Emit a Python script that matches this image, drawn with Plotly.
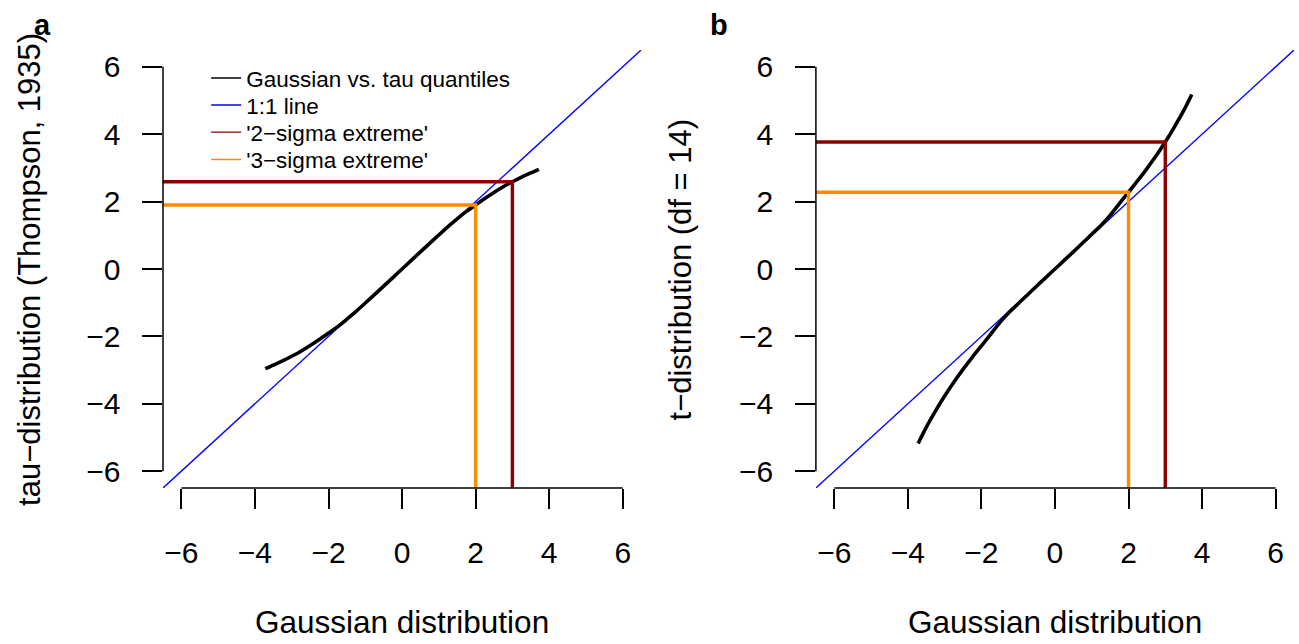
import plotly.graph_objects as go

# Standard normal quantiles shared by both panels
gauss_q = [-3.72, -3.5, -3.25, -3.0, -2.75, -2.5, -2.25, -2.0, -1.75, -1.5,
           -1.25, -1.0, -0.75, -0.5, -0.25, 0.0, 0.25, 0.5, 0.75, 1.0,
           1.25, 1.5, 1.75, 2.0, 2.25, 2.5, 2.75, 3.0, 3.25, 3.5, 3.72]
# Thompson (1935) tau quantiles at the same probabilities
tau_q = [-2.96, -2.85, -2.73, -2.59, -2.44, -2.27, -2.09, -1.90, -1.71, -1.49,
         -1.26, -1.01, -0.76, -0.51, -0.255, 0.0, 0.255, 0.51, 0.76, 1.01,
         1.26, 1.49, 1.71, 1.90, 2.09, 2.27, 2.44, 2.59, 2.73, 2.85, 2.96]
# Student t (df = 14) quantiles at the same probabilities
t14_q = [-5.18, -4.70, -4.22, -3.77, -3.36, -2.98, -2.62, -2.28, -1.94, -1.59,
         -1.29, -1.03, -0.77, -0.51, -0.255, 0.0, 0.255, 0.51, 0.77, 1.03,
         1.29, 1.59, 1.94, 2.28, 2.62, 2.98, 3.36, 3.77, 4.22, 4.70, 5.18]

# Gaussian cut-offs and their counterparts in each distribution
sigma_z = {"2": 3.0, "3": 2.0}
tau_cut = {"2": 2.59, "3": 1.90}
t14_cut = {"2": 3.77, "3": 2.28}

tick_vals = [-6, -4, -2, 0, 2, 4, 6]
tick_text = ["\u22126", "\u22124", "\u22122", "0", "2", "4", "6"]
axis_lim = [-6.5, 6.5]

legend_names = ["Gaussian vs. tau quantiles", "1:1 line",
                "'2\u2212sigma extreme'", "'3\u2212sigma extreme'"]

FONT = "Liberation Sans, Arial, Helvetica, sans-serif"
C_CURVE = "#000000"
C_ONE = "#0000FF"
C_TWO = "#8B0000"
C_THREE = "#FF8C00"
legend_colors = [C_CURVE, C_ONE, C_TWO, C_THREE]

fig = go.Figure()


def add_panel(xa, ya, quant, cut):
    # 1:1 reference line across the whole plotting region
    fig.add_trace(go.Scatter(x=axis_lim, y=axis_lim, mode="lines",
                             line=dict(color=C_ONE, width=1.4),
                             xaxis=xa, yaxis=ya, showlegend=False, hoverinfo="skip"))
    fig.add_trace(go.Scatter(x=gauss_q, y=quant, mode="lines",
                             line=dict(color=C_CURVE, width=3.6, shape="spline",
                                       smoothing=0.8),
                             xaxis=xa, yaxis=ya, showlegend=False))
    for key, col in (("2", C_TWO), ("3", C_THREE)):
        z, q = sigma_z[key], cut[key]
        fig.add_trace(go.Scatter(x=[axis_lim[0], z, z], y=[q, q, axis_lim[0]],
                                 mode="lines", line=dict(color=col, width=3.4),
                                 xaxis=xa, yaxis=ya, showlegend=False))


add_panel("x", "y", tau_q, tau_cut)
add_panel("x2", "y2", t14_q, t14_cut)

W, H = 1299, 644
ML, MR, MT, MB = 162.5, 4.8, 50, 156
PW = W - ML - MR
PH = H - MT - MB
dom_a = [0.0, 478.4 / PW]
dom_b = [(815.8 - ML) / PW, 1.0]


def px_x(px):
    return (px - ML) / PW


def px_y(py):
    return (H - MB - py) / PH


# One single-entry legend per row so the rows sit at a fixed spacing
legend_rows = [78.3, 105.3, 132.5, 159.8]
legend_layout = {}
for i, (name, col, row) in enumerate(zip(legend_names, legend_colors, legend_rows)):
    lid = "legend" if i == 0 else f"legend{i + 1}"
    fig.add_trace(go.Scatter(x=[None], y=[None], mode="lines", name=name,
                             line=dict(color=col, width=1.4), xaxis="x", yaxis="y",
                             legend=lid))
    legend_layout[lid] = dict(x=px_x(205.7), y=px_y(row), xanchor="left", yanchor="middle",
                              bgcolor="rgba(0,0,0,0)", borderwidth=0,
                              font=dict(family=FONT, size=22.5, color="black"))

axis_common = dict(range=axis_lim, tickvals=tick_vals, ticktext=tick_text,
                   ticks="outside", ticklen=19.6, tickwidth=1.5, tickcolor="black",
                   showline=False, showgrid=False, zeroline=False,
                   tickfont=dict(family=FONT, size=30, color="black"))

fig.update_layout(
    width=W, height=H,
    margin=dict(l=ML, r=MR, t=MT, b=MB, pad=0),
    paper_bgcolor="white", plot_bgcolor="white",
    font=dict(family=FONT, color="black"),
    xaxis=dict(domain=dom_a, anchor="y", ticklabelstandoff=18, **axis_common),
    yaxis=dict(domain=[0, 1], anchor="x", ticklabelstandoff=16, **axis_common),
    xaxis2=dict(domain=dom_b, anchor="y2", ticklabelstandoff=18, **axis_common),
    yaxis2=dict(domain=[0, 1], anchor="x2", ticklabelstandoff=16, **axis_common),
    **legend_layout,
)

# R-style axis lines spanning only the tick range
for xref, yref, xp in (("x", "y", 0.0), ("x2", "y2", dom_b[0])):
    fig.add_shape(type="line", xref=xref, yref="paper",
                  x0=min(tick_vals), x1=max(tick_vals), y0=0, y1=0,
                  line=dict(color="black", width=1.5))
    fig.add_shape(type="line", xref="paper", yref=yref,
                  x0=xp, x1=xp, y0=min(tick_vals), y1=max(tick_vals),
                  line=dict(color="black", width=1.5))

annots = [
    dict(text="Gaussian distribution", x=0, xref="x", y=px_y(622), yref="paper",
         xanchor="center", yanchor="middle", font=dict(size=31.5)),
    dict(text="Gaussian distribution", x=0, xref="x2", y=px_y(622), yref="paper",
         xanchor="center", yanchor="middle", font=dict(size=31.5)),
    dict(text="tau\u2212distribution (Thompson, 1935)", x=px_x(28.3), xref="paper",
         y=0, yref="y", textangle=-90, xanchor="center", yanchor="middle",
         font=dict(size=31)),
    dict(text="t\u2212distribution (df = 14)", x=px_x(680.3), xref="paper",
         y=0, yref="y2", textangle=-90, xanchor="center", yanchor="middle",
         font=dict(size=31)),
    dict(text="<b>a</b>", x=px_x(31.7), xref="paper", y=px_y(25), yref="paper",
         xanchor="left", yanchor="middle", font=dict(size=29)),
    dict(text="<b>b</b>", x=px_x(708), xref="paper", y=px_y(25), yref="paper",
         xanchor="left", yanchor="middle", font=dict(size=29)),
]
for a in annots:
    a["showarrow"] = False
    a["font"] = dict(family=FONT, color="black", **a["font"])
    fig.add_annotation(**a)

fig.write_html("out.html")
